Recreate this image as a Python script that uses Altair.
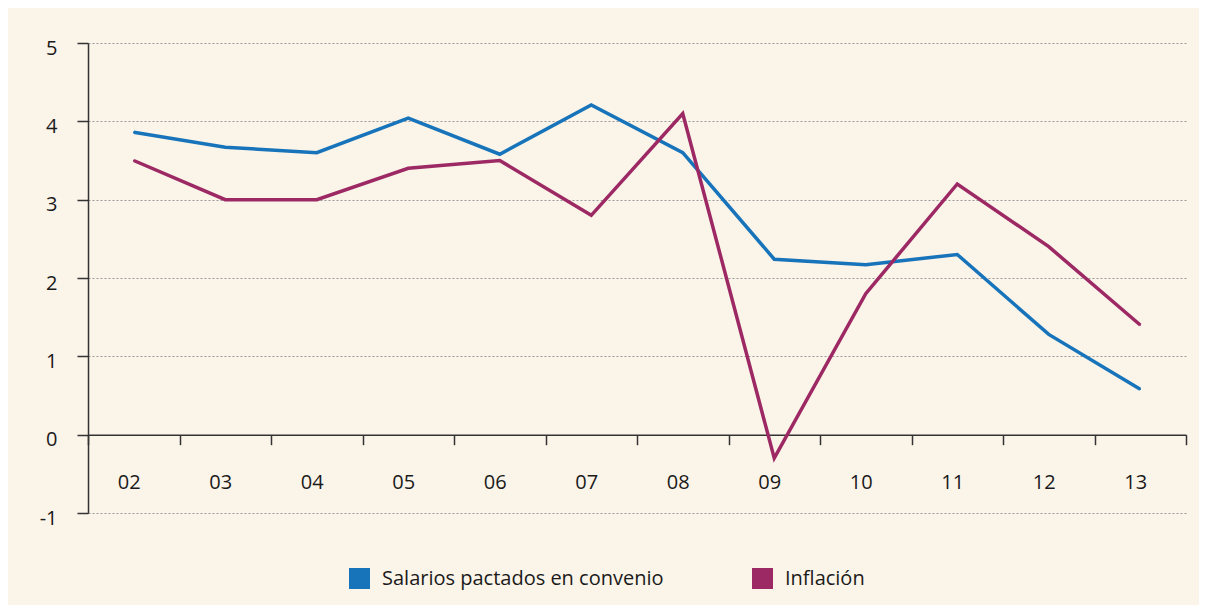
import altair as alt
import pandas as pd

years = ["02", "03", "04", "05", "06", "07", "08", "09", "10", "11", "12", "13"]
salarios = [3.86, 3.67, 3.60, 4.04, 3.58, 4.21, 3.60, 2.24, 2.17, 2.30, 1.28, 0.58]
inflacion = [3.5, 3.0, 3.0, 3.4, 3.5, 2.8, 4.1, -0.3, 1.8, 3.2, 2.4, 1.4]
series_names = ["Salarios pactados en convenio", "Inflación"]
series_colors = ["#1874ba", "#9d2964"]

rows = []
for y, s, i in zip(years, salarios, inflacion):
    rows.append({"año": y, "serie": series_names[0], "valor": s})
    rows.append({"año": y, "serie": series_names[1], "valor": i})
df = pd.DataFrame(rows)

FONT = "Open Sans"
W, H = 1098, 470
UNIT = H / 6.0

x_enc = alt.X("año:N", sort=years,
              scale=alt.Scale(type="band", paddingInner=0, paddingOuter=0),
              axis=alt.Axis(title=None, orient="bottom", offset=-UNIT,
                            tickBand="extent", tickSize=10, tickColor="#333333",
                            tickWidth=1.5, domainColor="#333333", domainWidth=1.5,
                            labelPadding=28, labelOffset=-5, labelFontSize=20,
                            labelFont=FONT, labelColor="#1a1a1a", labelAngle=0,
                            grid=False))
y_enc = alt.Y("valor:Q",
              scale=alt.Scale(domain=[-1, 5], nice=False, zero=False),
              axis=alt.Axis(title=None, values=[-1, 0, 1, 2, 3, 4, 5], format="d",
                            labelExpr="replace(datum.label, '\u2212', '-')",
                            tickSize=11, tickColor="#333333", tickWidth=1.5,
                            domainColor="#333333", domainWidth=1.5,
                            labelPadding=20, labelOffset=5, labelFontSize=20,
                            labelFont=FONT, labelColor="#1a1a1a",
                            grid=True, gridColor="#9a9a9a", gridDash=[2, 2],
                            gridWidth=1))
c_enc = alt.Color("serie:N",
                  scale=alt.Scale(domain=series_names, range=series_colors),
                  sort=series_names,
                  legend=alt.Legend(title=None, orient="none", direction="horizontal",
                                    legendX=261, legendY=525,
                                    symbolType="square", symbolSize=441,
                                    symbolStrokeWidth=0, symbolOpacity=1,
                                    labelFont=FONT, labelFontSize=20,
                                    labelColor="#1a1a1a", labelOffset=12,
                                    labelLimit=500, columnPadding=88))

base = alt.Chart(df).encode(x=x_enc, y=y_enc, color=c_enc)
lines = base.mark_line(strokeWidth=3.5, strokeJoin="miter")
dots = base.mark_point(shape="square", filled=True, size=2, strokeWidth=0, opacity=1)

chart = alt.layer(lines, dots).properties(
    width=W, height=H,
    autosize=alt.AutoSizeParams(type="none"),
    padding={"left": 80, "top": 35, "right": 13, "bottom": 92},
).configure(
    background="#faf4e9",
).configure_view(
    stroke=None,
)

chart.save("out.html", embed_options={"renderer": "svg", "actions": False})
